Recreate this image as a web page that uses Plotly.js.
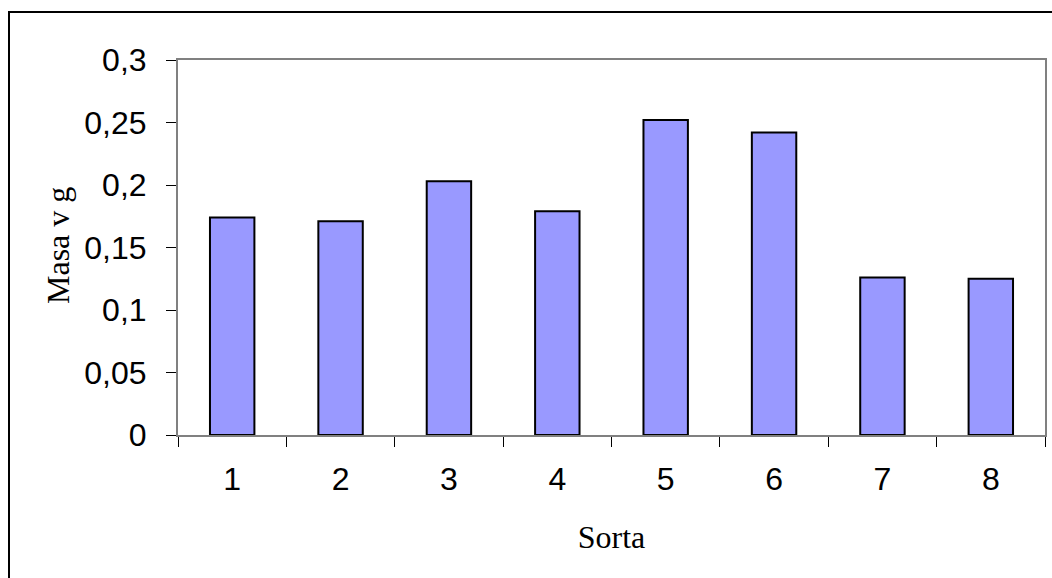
<!DOCTYPE html>
<html>
<head>
<meta charset="utf-8">
<script src="https://cdn.plot.ly/plotly-3.0.1.min.js"></script>
<style>
html,body{margin:0;padding:0;background:#fff;}
#chart{width:1052px;height:578px;}
</style>
</head>
<body>
<div id="chart"></div>
<script>
const categories = ['1','2','3','4','5','6','7','8'];
const values = [0.174, 0.171, 0.203, 0.179, 0.252, 0.242, 0.126, 0.125];
const yTickVals = [0, 0.05, 0.1, 0.15, 0.2, 0.25, 0.3];
const yTickText = ['0', '0,05', '0,1', '0,15', '0,2', '0,25', '0,3'];
const xTitle = 'Sorta';
const yTitle = 'Masa v g';

const trace = {
  type: 'bar',
  x: categories,
  y: values,
  marker: {color: '#9999FF', line: {color: '#000000', width: 2}},
  hoverinfo: 'none'
};

const layout = {
  width: 1052, height: 578,
  margin: {l: 178, r: 7, t: 60, b: 143},
  paper_bgcolor: '#ffffff',
  plot_bgcolor: '#ffffff',
  bargap: 0.59,
  showlegend: false,
  font: {family: 'Liberation Sans, Arial, sans-serif', color: '#000000', size: 32},
  xaxis: {
    type: 'category',
    tickson: 'boundaries',
    ticks: 'outside', ticklen: 10, tickwidth: 1, tickcolor: '#000000',
    showline: true, linecolor: '#808080', linewidth: 2, mirror: true,
    showgrid: false, zeroline: false,
    ticklabelstandoff: 15,
    tickfont: {size: 32},
    title: {text: xTitle, font: {family: 'Liberation Serif, Times New Roman, serif', size: 32}, standoff: 29}
  },
  yaxis: {
    range: [0, 0.3],
    tickvals: yTickVals, ticktext: yTickText,
    ticks: 'outside', ticklen: 10, tickwidth: 1, tickcolor: '#000000',
    showline: true, linecolor: '#808080', linewidth: 2, mirror: true,
    showgrid: false, zeroline: false,
    ticklabelstandoff: 13,
    tickfont: {size: 32}
  },
  annotations: [{
    text: yTitle, textangle: -90,
    xref: 'paper', yref: 'paper',
    x: (58 - 178) / 867, y: (435 - 245) / 375,
    xanchor: 'center', yanchor: 'middle', showarrow: false,
    font: {family: 'Liberation Serif, Times New Roman, serif', size: 32, color: '#000000'}
  }],
  shapes: [{
    type: 'path', xref: 'paper', yref: 'paper',
    path: 'M ' + ((9 - 178) / 867) + ' -1 L ' + ((9 - 178) / 867) + ' ' + (1 + (60 - 12) / 375) + ' L 2 ' + (1 + (60 - 12) / 375),
    line: {color: '#000000', width: 2}
  }]
};

Plotly.newPlot('chart', [trace], layout, {displayModeBar: false, staticPlot: true});
</script>
</body>
</html>
